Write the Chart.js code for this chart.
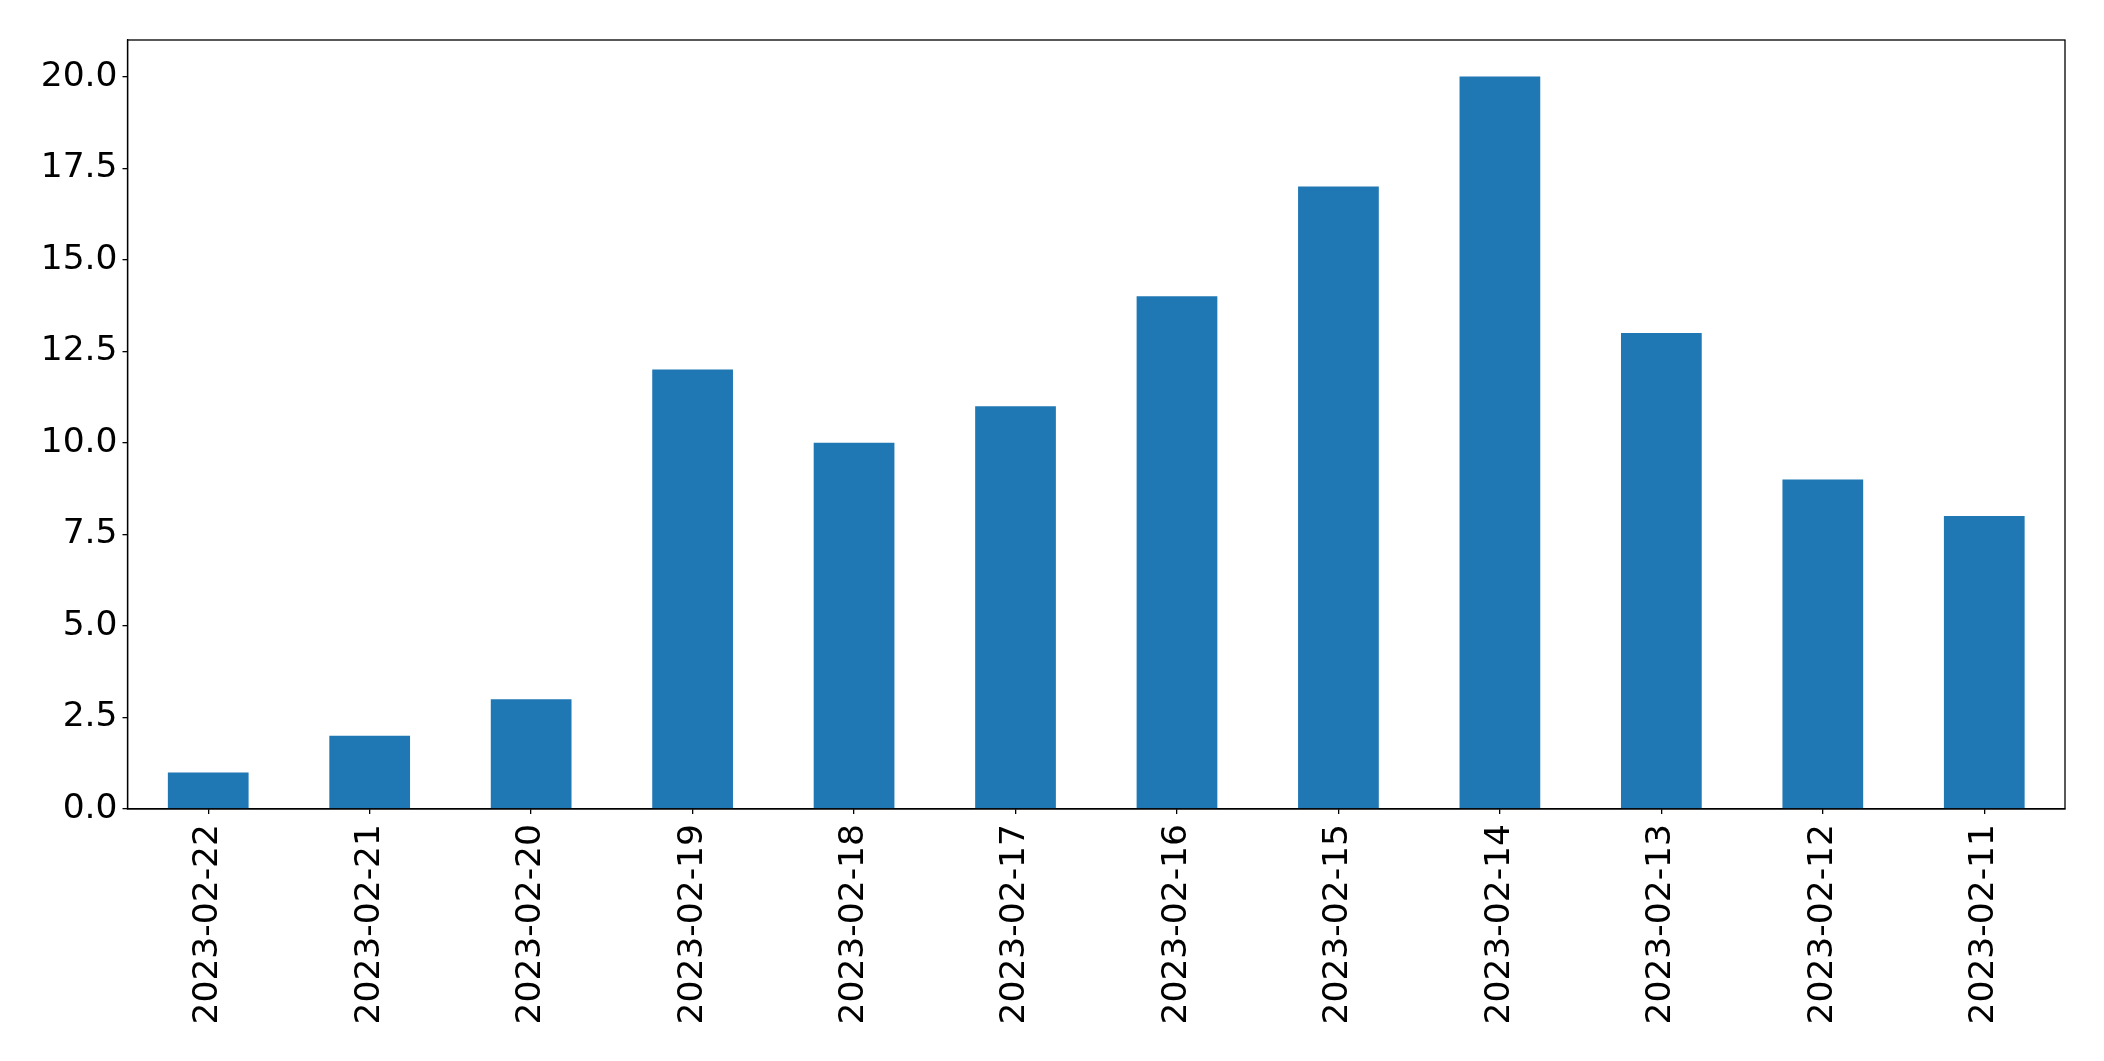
<!DOCTYPE html>
<html>
<head>
<meta charset="utf-8">
<script src="https://cdn.jsdelivr.net/npm/chart.js@4"></script>
<style>
  html, body { margin: 0; padding: 0; background: #ffffff; }
  #wrap { width: 2104px; height: 1061px; position: relative; }
</style>
</head>
<body>
<div id="wrap"><canvas id="c"></canvas></div>
<script>
const categories = ["2023-02-22", "2023-02-21", "2023-02-20", "2023-02-19", "2023-02-18", "2023-02-17",
                    "2023-02-16", "2023-02-15", "2023-02-14", "2023-02-13", "2023-02-12", "2023-02-11"];
const values = [1, 2, 3, 12, 10, 11, 14, 17, 20, 13, 9, 8];
const yMin = 0;
const yMax = 21;
const yStep = 2.5;

const FONT = "'DejaVu Sans', sans-serif";

const frame = {
  id: 'frame',
  afterDraw(chart) {
    const a = chart.chartArea;
    const ctx = chart.ctx;
    ctx.save();
    ctx.strokeStyle = '#000000';
    ctx.lineWidth = 1.3;
    ctx.strokeRect(a.left, a.top, a.right - a.left, a.bottom - a.top);
    ctx.restore();
  }
};

new Chart(document.getElementById('c'), {
  type: 'bar',
  data: {
    labels: categories,
    datasets: [{
      data: values,
      backgroundColor: '#1f77b4',
      borderWidth: 0,
      barPercentage: 0.5,
      categoryPercentage: 1.0
    }]
  },
  options: {
    responsive: true,
    maintainAspectRatio: false,
    animation: false,
    devicePixelRatio: 1,
    layout: { padding: { left: 0, right: 39, top: 40, bottom: 0 } },
    plugins: { legend: { display: false }, tooltip: { enabled: false } },
    scales: {
      x: {
        offset: true,
        grid: { display: true, drawOnChartArea: false, tickLength: 5, color: '#000000', lineWidth: 1.3, offset: false },
        border: { display: true, color: '#000000', width: 1.3 },
        ticks: {
          color: '#000000',
          font: { family: FONT, size: 34.5 },
          minRotation: 90, maxRotation: 90,
          padding: 10,
          autoSkip: false
        },
        afterFit(scale) { scale.height = 252; }
      },
      y: {
        min: yMin, max: yMax,
        grid: { display: true, drawOnChartArea: false, tickLength: 5, color: '#000000', lineWidth: 1.3 },
        border: { display: true, color: '#000000', width: 1.3 },
        ticks: {
          stepSize: yStep,
          includeBounds: false,
          color: '#000000',
          font: { family: FONT, size: 34.5 },
          padding: 5,
          callback: (v) => Number(v).toFixed(1)
        },
        afterFit(scale) { scale.width = 127.5; }
      }
    }
  },
  plugins: [frame]
});
</script>
</body>
</html>
